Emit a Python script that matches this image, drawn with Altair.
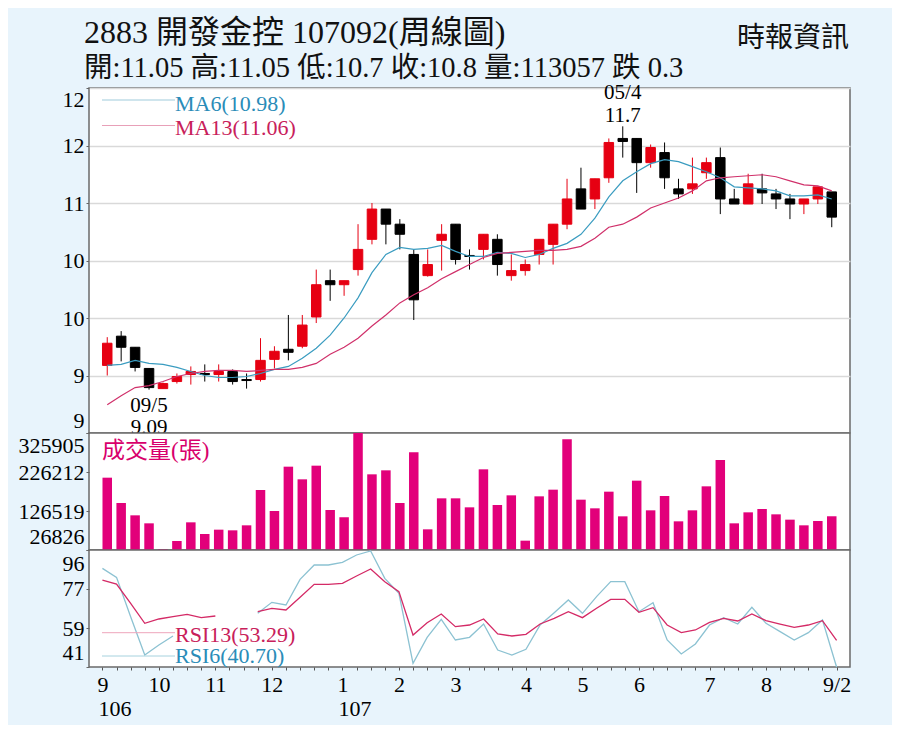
import json
import altair as alt
import pandas as pd

# ---------------- data ----------------
WEEK = list(range(53))
OPEN = [9.33, 9.62, 9.51, 9.30, 9.10, 9.17, 9.24, 9.25, 9.24, 9.27,
        9.19, 9.19, 9.39, 9.49, 9.52, 9.81, 10.17, 10.13, 10.28, 10.58,
        10.88, 10.73, 10.43, 10.22, 10.57, 10.73, 10.42, 10.48, 10.58, 10.22,
        10.27, 10.43, 10.53, 10.73, 11.08, 10.98, 11.19, 11.58, 11.58, 11.34,
        11.44, 11.08, 11.08, 11.24, 11.39, 10.98, 10.93, 11.08, 11.03, 10.98,
        10.93, 10.98, 11.05]
HIGH = [9.61, 9.67, 9.51, 9.30, 9.16, 9.25, 9.32, 9.34, 9.34, 9.29,
        9.25, 9.60, 9.52, 9.83, 9.83, 10.28, 10.28, 10.17, 10.73, 10.94,
        10.88, 10.78, 10.48, 10.48, 10.73, 10.73, 10.48, 10.63, 10.63, 10.43,
        10.38, 10.58, 10.73, 11.18, 11.29, 11.18, 11.58, 11.70, 11.58, 11.52,
        11.54, 11.18, 11.39, 11.39, 11.49, 11.08, 11.23, 11.23, 11.08, 11.03,
        10.98, 11.10, 11.05]
LOW = [9.23, 9.37, 9.27, 9.09, 9.10, 9.15, 9.14, 9.17, 9.17, 9.14,
       9.10, 9.17, 9.30, 9.38, 9.50, 9.75, 9.97, 10.02, 10.22, 10.53,
       10.53, 10.48, 9.78, 10.21, 10.27, 10.33, 10.28, 10.38, 10.22, 10.17,
       10.22, 10.33, 10.33, 10.68, 10.88, 10.88, 11.14, 11.39, 11.04, 11.29,
       11.08, 10.98, 11.03, 11.18, 10.83, 10.93, 10.93, 10.93, 10.88, 10.78,
       10.83, 10.93, 10.70]
CLOSE = [9.55, 9.51, 9.31, 9.11, 9.15, 9.22, 9.27, 9.24, 9.27, 9.17,
         9.18, 9.38, 9.47, 9.46, 9.73, 10.13, 10.13, 10.17, 10.48, 10.88,
         10.73, 10.63, 9.98, 10.33, 10.63, 10.38, 10.41, 10.63, 10.33, 10.27,
         10.33, 10.58, 10.73, 10.98, 10.88, 11.18, 11.54, 11.55, 11.34, 11.49,
         11.19, 11.03, 11.13, 11.34, 10.98, 10.93, 11.13, 11.04, 10.98, 10.93,
         10.98, 11.10, 10.80]
VOLUME = [211700, 146970, 115450, 95000, 29380, 49830, 97550, 67720, 78800, 77100,
          89890, 180200, 126520, 239840, 207470, 242400, 129070, 110340, 325905, 220250,
          230480, 146970, 276490, 79660, 158900, 158900, 135900, 233030, 141860, 166570,
          50690, 164010, 181040, 309710, 155480, 133340, 175930, 112890, 204060, 128230,
          164860, 100110, 128230, 189580, 256880, 95000, 123110, 131630, 118000, 104370,
          89890, 100950, 113057]
MA6 = [9.33, 9.34, 9.38, 9.35, 9.34, 9.31, 9.27, 9.23, 9.21, 9.21,
       9.22, 9.25, 9.29, 9.32, 9.40, 9.50, 9.63, 9.80, 10.00, 10.25,
       10.43, 10.50, 10.48, 10.49, 10.52, 10.46, 10.41, 10.41, 10.45, 10.44,
       10.40, 10.43, 10.49, 10.54, 10.63, 10.79, 11.00, 11.16, 11.25, 11.33,
       11.37, 11.35, 11.30, 11.25, 11.19, 11.10, 11.09, 11.08, 11.06, 11.01,
       11.01, 11.02, 10.98]
MA13 = [8.94, 9.03, 9.11, 9.13, 9.17, 9.22, 9.25, 9.27, 9.28, 9.28,
        9.27, 9.28, 9.29, 9.29, 9.31, 9.35, 9.44, 9.51, 9.60, 9.72,
        9.83, 9.95, 10.03, 10.10, 10.19, 10.26, 10.33, 10.40, 10.44, 10.45,
        10.46, 10.47, 10.47, 10.48, 10.51, 10.59, 10.70, 10.73, 10.80, 10.89,
        10.94, 10.99, 11.06, 11.16, 11.19, 11.20, 11.21, 11.22, 11.20, 11.16,
        11.12, 11.11, 11.06]
RSI6 = [87.33, 83.08, 64.49, 46.37, 51.10, 55.35, None, None, None, None,
        None, 66.07, 71.27, 70.00, 82.14, 88.91, 88.91, 90.17, 93.64, 95.53,
        82.61, 75.52, 42.43, 54.72, 63.23, 53.46, 54.72, 61.02, 48.74, 46.37,
        49.05, 60.55, 66.38, 72.37, 66.07, 73.94, 81.03, 81.03, 66.85, 71.11,
        53.46, 46.84, 51.57, 60.55, 64.02, 61.02, 68.90, 61.34, 57.40, 53.46,
        56.93, 62.91, 40.70]
RSI13 = [81.82, 79.93, 70.79, 61.34, 63.39, 64.49, 65.59, 64.02, 64.80, None,
         None, 66.85, 68.43, 67.64, 73.63, 79.77, 79.77, 80.25, 83.71, 87.02,
         81.03, 76.31, 55.82, 61.65, 65.75, 59.76, 60.55, 63.39, 56.30, 55.35,
         56.14, 61.02, 63.70, 66.85, 64.02, 68.43, 72.68, 72.68, 66.54, 68.74,
         60.55, 56.93, 58.19, 61.81, 63.70, 62.44, 65.75, 62.60, 61.02, 59.45,
         60.55, 62.60, 53.29]

MONTH_WEEKS = [0, 4, 8, 12, 17, 21, 25, 30, 34, 38, 43, 47, 52]
MONTH_LABELS = ["9", "10", "11", "12", "1", "2", "3", "4", "5", "6", "7", "8", "9/2"]
YEAR_WEEKS = [0, 17]
YEAR_LABELS = ["106", "107"]

PRICE_TICKS = [8.66, 9.23, 9.80, 10.37, 10.94, 11.51, 12.08]
PRICE_TICK_LABELS = ["9", "9", "10", "10", "11", "12", "12"]
VOL_TICKS = [26826, 126519, 226212, 325905]
VOL_TICK_LABELS = ["26826", "126519", "226212", "325905"]
RSI_TICKS = [40.7, 59.13, 77.57, 96.0]
RSI_TICK_LABELS = ["41", "59", "77", "96"]

TITLE = "2883  開發金控 107092(周線圖)"
SUBTITLE = "開:11.05 高:11.05 低:10.7 收:10.8 量:113057 跌 0.3"
SOURCE = "時報資訊"
VOL_LABEL = "成交量(張)"
HIGH_MARK = {"week": [37], "date": ["05/4"], "price": [11.7]}
LOW_MARK = {"week": [3], "date": ["09/5"], "price": [9.09]}

# ---------------- styling ----------------
FONT = "'Liberation Serif', 'Noto Sans CJK TC', serif"
UP, DOWN = "#e60012", "#000000"
MA6_C, MA13_C = "#3a9cc0", "#d0306a"
RSI6_C, RSI13_C = "#8cc2d2", "#d42a66"
VOL_C = "#e2007a"
W = 761
XDOM = [-0.95, 52.95]


def label_expr(vals, labels):
    v = json.dumps(vals)
    l = json.dumps(labels)
    return f"indexof({v}, datum.value) >= 0 ? {l}[indexof({v}, datum.value)] : ''"


def one(**kw):
    return pd.DataFrame({k: [v] for k, v in kw.items()})


xscale = alt.Scale(domain=XDOM, nice=False, zero=False)
X_NOAXIS = alt.X("week:Q", scale=xscale, axis=None, title=None)
X_AXIS = alt.X(
    "week:Q", scale=xscale, title=None,
    axis=alt.Axis(values=WEEK, labelExpr=label_expr(MONTH_WEEKS, MONTH_LABELS),
                  labelOverlap=False, labelFlush=False, grid=False, domain=False,
                  tickSize=3, tickColor="#555", tickWidth=1,
                  labelFont=FONT, labelFontSize=22, labelColor="#000",
                  labelPadding=4),
)

yaxis_common = dict(domain=False, tickSize=3, tickColor="#666", labelFont=FONT,
                    labelFontSize=22, labelColor="#000", labelPadding=2,
                    minExtent=80, maxExtent=80, labelFlush=True, labelOverlap=False)

price_df = pd.DataFrame({"week": WEEK, "open": OPEN, "high": HIGH, "low": LOW,
                         "close": CLOSE, "ma6": MA6, "ma13": MA13})
price_df["dir"] = ["up" if c >= o else "down" for o, c in zip(OPEN, CLOSE)]

price_scale = alt.Scale(domain=[PRICE_TICKS[0], PRICE_TICKS[-1]], nice=False, zero=False)
price_axis = alt.Axis(values=PRICE_TICKS, labelExpr=label_expr(PRICE_TICKS, PRICE_TICK_LABELS),
                      grid=True, gridColor="#d9d9d9", gridWidth=1.5,
                      labelFlushOffset=-1, **yaxis_common)


def py(field):
    return alt.Y(field, scale=price_scale, axis=price_axis, title=None)


dir_scale = alt.Scale(domain=["up", "down"], range=[UP, DOWN])

base_p = alt.Chart(price_df)
wicks = base_p.mark_rule(strokeWidth=1).encode(
    x=X_NOAXIS, y=py("low:Q"), y2="high:Q",
    color=alt.Color("dir:N", scale=dir_scale, legend=None))
bodies = base_p.mark_bar(size=9.5, strokeWidth=1).encode(
    x=X_NOAXIS, y=py("open:Q"), y2="close:Q",
    fill=alt.Fill("dir:N", scale=dir_scale, legend=None),
    stroke=alt.Stroke("dir:N", scale=dir_scale, legend=None))
ma6_line = base_p.mark_line(color=MA6_C, strokeWidth=1.2).encode(x=X_NOAXIS, y=py("ma6:Q"))
ma13_line = base_p.mark_line(color=MA13_C, strokeWidth=1.2).encode(x=X_NOAXIS, y=py("ma13:Q"))

ma_leg = []
for txt, col, lc, ly, ty in [(f"MA6({MA6[-1]:.2f})", "#2a8cb8", "#9fcbdb", 12, 23),
                             (f"MA13({MA13[-1]:.2f})", "#c8205a", "#e8a0b8", 37.5, 47)]:
    ma_leg.append(alt.Chart(one(t=txt)).mark_rule(color=lc, strokeWidth=1).encode(
        x=alt.value(13), x2=alt.value(86), y=alt.value(ly)))
    ma_leg.append(alt.Chart(one(t=txt)).mark_text(
        font=FONT, fontSize=22, color=col, align="left", baseline="alphabetic").encode(
        x=alt.value(86), y=alt.value(ty), text="t:N"))

annot = []
for d, date_dy, price_dy in [(HIGH_MARK, -27, -4), (LOW_MARK, 22, 44)]:
    ach = alt.Chart(pd.DataFrame(d))
    annot.append(ach.mark_text(font=FONT, fontSize=21, color="#000", dy=date_dy,
                               baseline="alphabetic").encode(x=X_NOAXIS, y=py("price:Q"), text="date:N"))
    annot.append(ach.mark_text(font=FONT, fontSize=21, color="#000", dy=price_dy,
                               baseline="alphabetic").encode(
        x=X_NOAXIS, y=py("price:Q"), text=alt.Text("price:Q", format=".2~f")))

header = [
    alt.Chart(one(t=TITLE)).mark_text(font=FONT, fontSize=32, color="#111", align="left",
                                      baseline="alphabetic").encode(
        x=alt.value(-5), y=alt.value(-44.7), text="t:N"),
    alt.Chart(one(t=SUBTITLE)).mark_text(font=FONT, fontSize=28.5, color="#111", align="left",
                                         baseline="alphabetic").encode(
        x=alt.value(-5), y=alt.value(-11.3), text="t:N"),
    alt.Chart(one(t=SOURCE)).mark_text(font=FONT, fontSize=28, color="#111", align="right",
                                       baseline="alphabetic").encode(
        x=alt.value(760), y=alt.value(-41), text="t:N"),
]

price_panel = alt.layer(wicks, bodies, ma6_line, ma13_line, *ma_leg, *annot, *header).properties(
    width=W, height=345)

# ---------------- volume ----------------
vol_df = pd.DataFrame({"week": WEEK, "vol": VOLUME})
vol_scale = alt.Scale(domain=[VOL_TICKS[0], VOL_TICKS[-1]], nice=False, zero=False)
vol_axis = alt.Axis(values=VOL_TICKS, labelExpr=label_expr(VOL_TICKS, VOL_TICK_LABELS),
                    grid=False, labelFlushOffset=-2, **yaxis_common)
vol_bars = alt.Chart(vol_df).mark_bar(size=9.5, color=VOL_C).encode(
    x=X_NOAXIS,
    y=alt.Y("vol:Q", title=None, scale=vol_scale, axis=vol_axis),
    y2=alt.datum(VOL_TICKS[0]))
vol_text = alt.Chart(one(t=VOL_LABEL)).mark_text(font=FONT, fontSize=23, color="#d8006c",
                                                 align="left", baseline="alphabetic").encode(
    x=alt.value(13), y=alt.value(25), text="t:N")
vol_panel = alt.layer(vol_bars, vol_text).properties(width=W, height=117)

# ---------------- RSI ----------------
rsi_df = pd.DataFrame({"week": WEEK, "rsi6": RSI6, "rsi13": RSI13})
rsi_scale = alt.Scale(domain=[RSI_TICKS[0], RSI_TICKS[-1]], nice=False, zero=False)
rsi_axis = alt.Axis(values=RSI_TICKS, labelExpr=label_expr(RSI_TICKS, RSI_TICK_LABELS),
                    grid=False, labelFlushOffset=-3, **yaxis_common)
rsi6_line = alt.Chart(rsi_df).mark_line(color=RSI6_C, strokeWidth=1.3).encode(
    x=X_AXIS, y=alt.Y("rsi6:Q", scale=rsi_scale, axis=rsi_axis, title=None))
rsi13_line = alt.Chart(rsi_df).mark_line(color=RSI13_C, strokeWidth=1.3).encode(
    x=X_AXIS, y=alt.Y("rsi13:Q", scale=rsi_scale, axis=rsi_axis, title=None))

rsi_leg = []
for txt, col, lc, ly, ty in [(f"RSI13({RSI13[-1]:.2f})", "#c8205a", "#eea6bc", 82.7, 92),
                             (f"RSI6({RSI6[-1]:.2f})", "#2a8cb8", "#a6d2de", 106, 113)]:
    rsi_leg.append(alt.Chart(one(t=txt)).mark_rule(color=lc, strokeWidth=1).encode(
        x=alt.value(13), x2=alt.value(86), y=alt.value(ly)))
    rsi_leg.append(alt.Chart(one(t=txt)).mark_text(
        font=FONT, fontSize=22, color=col, align="left", baseline="alphabetic").encode(
        x=alt.value(86), y=alt.value(ty), text="t:N"))

year_df = pd.DataFrame({"week": YEAR_WEEKS, "t": YEAR_LABELS})
year_text = alt.Chart(year_df).mark_text(font=FONT, fontSize=22, color="#000", align="left",
                                         baseline="alphabetic", dx=-4).encode(
    x=X_AXIS, y=alt.value(166), text="t:N")

rsi_panel = alt.layer(rsi6_line, rsi13_line, *rsi_leg, year_text).properties(width=W, height=117)

chart = alt.vconcat(price_panel, vol_panel, rsi_panel, spacing=0, bounds="flush").properties(
    background="#e8f4fc",
    padding={"left": 0, "top": 8, "right": 40, "bottom": 4},
).configure_view(
    fill="white", stroke="#6a6a6a", strokeWidth=1.5
)

chart.save("out.html", embed_options={"renderer": "svg", "actions": False})
